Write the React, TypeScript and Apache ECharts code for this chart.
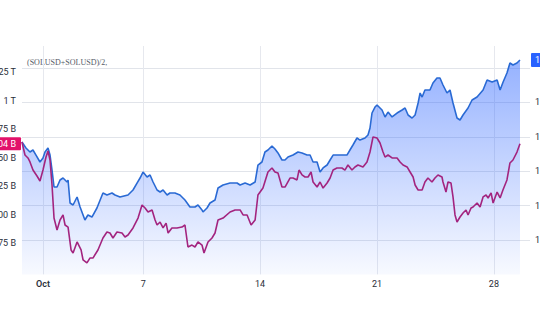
import React, { useEffect, useRef } from "react";
import * as echarts from "echarts";

// x = days since Oct 1 00:00
const dateTickDays = [0, 6, 13, 20, 27];
const dateTickLabels = ["Oct", "7", "14", "21", "28"];

const legendText = "(SOLUSD+SOLUSD)/2,";

// main series (right scale)
const blueSeries: [number, number][] = [
  [-1.26,114.24],[-1.02,113.37],[-0.78,112.79],[-0.60,113.08],[-0.42,112.35],[-0.18,111.34],[0,111.92],[0.12,112.79],[0.30,113.37],[0.42,112.35],
  [0.54,110.17],[0.66,107.70],[0.84,107.70],[1.02,108.72],[1.20,109.01],[1.44,108.43],[1.50,108.72],[1.62,105.38],[1.80,105.09],[2.04,106.25],
  [2.22,104.80],[2.51,102.91],[2.69,103.63],[2.93,103.34],[3.23,104.65],[3.59,106.83],[3.83,106.54],[4.13,106.83],[4.31,106.54],[4.61,106.25],
  [5.09,106.54],[5.39,107.27],[5.63,108.28],[5.81,109.01],[5.99,109.88],[6.23,109.16],[6.41,109.45],[6.59,108.43],[6.83,107.27],[7.01,106.98],
  [7.19,107.27],[7.43,106.54],[7.60,106.83],[7.90,106.83],[8.20,106.54],[8.50,105.81],[8.80,104.80],[9.10,104.80],[9.28,105.09],[9.52,104.36],
  [9.58,104.07],[9.82,104.65],[10.00,105.38],[10.30,105.81],[10.48,107.56],[10.78,107.99],[11.20,108.28],[11.62,108.28],[11.80,107.99],[12.10,108.28],
  [12.40,107.99],[12.70,108.43],[12.87,110.90],[13.11,111.34],[13.29,112.79],[13.47,113.08],[13.71,113.66],[13.89,113.23],[14.07,112.65],[14.31,111.63],
  [14.49,111.63],[14.67,112.06],[14.97,112.35],[15.27,112.79],[15.51,112.65],[15.81,112.35],[15.99,112.35],[16.17,111.34],[16.41,111.34],[16.59,109.88],
  [16.77,110.47],[17.01,110.90],[17.19,111.63],[17.37,112.35],[17.78,112.35],[18.20,112.35],[18.38,113.08],[18.56,113.81],[18.80,114.83],[18.98,114.53],
  [19.28,114.83],[19.46,115.26],[19.58,116.28],[19.70,118.46],[19.88,119.33],[20.00,119.62],[20.30,118.90],[20.48,117.88],[20.66,118.60],[20.90,117.88],
  [21.20,118.46],[21.50,118.90],[21.68,119.19],[21.86,118.17],[22.10,117.73],[22.28,118.17],[22.46,119.91],[22.58,121.37],[22.70,120.78],[22.87,121.80],
  [23.17,121.80],[23.35,122.82],[23.59,123.55],[23.77,123.55],[23.95,122.53],[24.19,121.37],[24.37,121.80],[24.55,119.91],[24.79,117.73],[24.97,117.44],
  [25.15,118.17],[25.45,119.19],[25.69,120.35],[25.99,120.78],[26.35,121.80],[26.59,123.26],[26.89,122.97],[27.19,123.26],[27.37,121.80],[27.55,122.97],
  [27.78,124.27],[27.96,125.73],[28.14,125.44],[28.38,125.73],[28.56,126.16],
];

// compared series (left scale, billions)
const pinkSeries: [number, number][] = [
  [-1.26,963.6],[-1.08,952.2],[-0.90,949.6],[-0.78,946.1],[-0.60,939.0],[-0.36,933.8],[-0.18,929.4],[0,939.0],[0.18,950.4],[0.30,955.7],
  [0.42,947.8],[0.54,925.9],[0.66,896.9],[0.84,886.4],[1.02,895.2],[1.20,899.6],[1.32,890.8],[1.50,889.0],[1.68,868.9],[1.80,866.2],
  [2.04,875.9],[2.28,868.9],[2.40,860.1],[2.63,857.5],[2.81,861.8],[2.99,861.8],[3.29,868.9],[3.59,879.4],[3.83,884.6],[4.01,883.8],
  [4.19,879.4],[4.43,884.6],[4.73,883.8],[4.91,880.3],[5.09,882.0],[5.39,888.2],[5.69,896.9],[5.93,908.3],[6.11,905.7],[6.29,902.2],
  [6.53,904.0],[6.71,895.2],[6.83,890.8],[7.01,893.4],[7.19,888.2],[7.37,892.5],[7.49,883.8],[7.72,888.2],[8.02,888.2],[8.32,889.0],
  [8.50,890.8],[8.68,871.5],[8.92,873.2],[9.10,871.5],[9.28,875.9],[9.52,873.2],[9.64,866.2],[9.88,875.9],[10.12,879.4],[10.30,883.8],
  [10.48,895.2],[10.78,896.9],[11.20,902.2],[11.50,904.0],[11.80,904.0],[11.98,899.6],[12.22,899.6],[12.46,890.8],[12.70,895.2],[12.87,917.1],
  [13.17,923.2],[13.47,937.3],[13.71,940.8],[13.89,937.3],[14.07,936.4],[14.31,924.1],[14.49,924.1],[14.79,932.0],[14.97,932.0],[15.21,930.3],
  [15.33,939.0],[15.51,934.7],[15.69,932.9],[15.87,932.9],[16.05,937.3],[16.17,928.5],[16.41,924.1],[16.59,928.5],[16.77,923.2],[17.01,927.6],
  [17.19,932.0],[17.37,939.0],[17.60,940.8],[17.90,940.8],[18.08,939.0],[18.26,943.4],[18.50,939.0],[18.68,941.7],[18.86,943.4],[19.16,941.7],
  [19.40,946.1],[19.58,954.8],[19.76,968.0],[20.00,967.1],[20.18,962.7],[20.36,954.8],[20.48,950.4],[20.66,952.2],[20.90,949.6],[21.20,949.6],
  [21.38,946.1],[21.56,943.4],[21.80,941.7],[21.98,937.3],[22.16,932.9],[22.28,925.9],[22.46,921.5],[22.70,921.5],[22.87,928.5],[23.05,932.0],
  [23.29,928.5],[23.47,932.0],[23.65,934.7],[23.89,932.9],[23.95,928.5],[24.13,919.7],[24.25,928.5],[24.43,927.6],[24.55,915.4],[24.67,899.6],
  [24.79,893.4],[24.97,897.8],[25.15,901.3],[25.33,904.0],[25.45,899.6],[25.63,905.7],[25.75,906.6],[25.99,910.1],[26.17,906.6],[26.35,915.4],
  [26.53,917.1],[26.65,914.5],[26.83,918.9],[26.95,910.1],[27.19,919.7],[27.37,914.5],[27.54,921.5],[27.78,930.3],[27.96,945.2],[28.14,947.8],
  [28.38,954.8],[28.56,962.04],
];

const X_MIN = -1.2575;
const X_MAX = 29.16;

const fmtLeft = (v: number) =>
  v >= 1000 ? `${+(v / 1000).toFixed(3)} T` : `${Math.round(v)} B`;

export default function App() {
  const ref = useRef<HTMLDivElement>(null);
  useEffect(() => {
    if (!ref.current) return;
    const chart = echarts.init(ref.current, null, { renderer: "svg" });
    const lastBlue = blueSeries[blueSeries.length - 1][1];
    const lastPink = pinkSeries[pinkSeries.length - 1][1];
    const labelColor = "#2a2e39";
    const legendGraphic = {
      type: "text",
      id: "legend",
      left: 27,
      top: 58,
      style: {
        text: legendText,
        fontSize: 8,
        fill: "#555a66",
        fontFamily: "Liberation Serif",
      },
    };
    chart.setOption({
      animation: false,
      backgroundColor: "#ffffff",
      textStyle: { fontFamily: "Roboto" },
      grid: [
        { left: 22, right: 10, top: 46, bottom: 61.6, containLabel: false, outerBoundsMode: "none" },
        { left: 22, right: 10, top: 43.5, bottom: 64.5, containLabel: false, outerBoundsMode: "none" },
      ],
      xAxis: [
        {
          type: "value",
          gridIndex: 0,
          min: X_MIN,
          max: X_MAX,
          axisLine: { show: false },
          axisTick: { show: false, customValues: dateTickDays },
          axisLabel: {
            customValues: dateTickDays,
            margin: 5,
            fontSize: 9,
            color: labelColor,
            formatter: (v: number) => {
              const i = dateTickDays.indexOf(Math.round(v));
              if (i < 0) return "";
              return i === 0 ? `{b|${dateTickLabels[i]}}` : dateTickLabels[i];
            },
            rich: { b: { fontSize: 9, fontWeight: 600, color: labelColor } },
          },
          splitLine: { show: true, lineStyle: { color: "#e6e8ee", width: 1 } },
        },
        {
          type: "value",
          gridIndex: 1,
          min: X_MIN,
          max: X_MAX,
          show: false,
          splitLine: { show: false },
        },
      ],
      yAxis: [
        {
          type: "value",
          gridIndex: 0,
          position: "right",
          min: 95,
          max: 128.2,
          interval: 5,
          axisLine: { show: false },
          axisTick: { show: false },
          axisLabel: {
            margin: 5,
            fontSize: 9,
            color: labelColor,
            showMinLabel: false,
            showMaxLabel: false,
            formatter: (v: number) =>
              Math.abs(v - 125) < 0.01 ? "" : (v / 100).toFixed(2),
          },
          splitLine: {
            show: true,
            showMinLine: false,
            showMaxLine: false,
            lineStyle: { color: "#e1e4ea", width: 1 },
          },
        },
        {
          type: "value",
          gridIndex: 1,
          position: "left",
          min: 850,
          max: 1050,
          interval: 25,
          axisLine: { show: false },
          axisTick: { show: false },
          splitLine: { show: false },
          axisLabel: {
            margin: 6,
            fontSize: 9,
            color: labelColor,
            showMinLabel: false,
            showMaxLabel: false,
            formatter: fmtLeft,
          },
        },
      ],
      graphic: [legendGraphic],
      series: [
        {
          type: "line",
          xAxisIndex: 0,
          yAxisIndex: 0,
          data: blueSeries,
          showSymbol: false,
          symbol: "none",
          lineStyle: { color: "#2a6ad4", width: 1.6 },
          areaStyle: {
            origin: "start",
            color: new echarts.graphic.LinearGradient(0, 0, 0, 1, [
              { offset: 0, color: "rgba(41,98,255,0.70)" },
              { offset: 1, color: "rgba(41,98,255,0.05)" },
            ]),
          },
        },
        {
          type: "line",
          xAxisIndex: 1,
          yAxisIndex: 1,
          data: pinkSeries,
          showSymbol: false,
          symbol: "none",
          lineStyle: { color: "#a3247f", width: 1.6 },
        },
      ],
    });

    // last-value tags, placed through the axes' own scales
    const yb = chart.convertToPixel({ yAxisIndex: 0 }, lastBlue) as number;
    const yp = chart.convertToPixel({ yAxisIndex: 1 }, lastPink) as number;
    const rightEdge = chart.convertToPixel({ xAxisIndex: 0 }, X_MAX) as number;
    const leftEdge = chart.convertToPixel({ xAxisIndex: 0 }, X_MIN) as number;
    chart.setOption({
      graphic: [
        legendGraphic,
        {
          type: "rect",
          id: "tagBlueBox",
          shape: { x: rightEdge + 1, y: yb - 7, width: 30, height: 14, r: 1 },
          style: { fill: "#2962ff" },
          z: 10,
        },
        {
          type: "text",
          id: "tagBlueText",
          x: rightEdge + 5,
          y: yb,
          style: {
            text: (lastBlue / 100).toFixed(2),
            fill: "#ffffff",
            fontSize: 9,
            fontFamily: "Roboto",
            verticalAlign: "middle",
            align: "left",
          },
          z: 11,
        },
        {
          type: "rect",
          id: "tagPinkBox",
          shape: { x: leftEdge - 50, y: yp - 6.5, width: 49, height: 13, r: 1 },
          style: { fill: "#e2126a" },
          z: 10,
        },
        {
          type: "text",
          id: "tagPinkText",
          x: leftEdge - 6,
          y: yp,
          style: {
            text: `${lastPink.toFixed(2)} B`,
            fill: "#ffffff",
            fontSize: 9,
            fontFamily: "Roboto",
            verticalAlign: "middle",
            align: "right",
          },
          z: 11,
        },
      ],
    });
    return () => chart.dispose();
  }, []);
  return (
    <div
      ref={ref}
      style={{ position: "fixed", left: 0, top: 0, width: 540, height: 336 }}
    />
  );
}
